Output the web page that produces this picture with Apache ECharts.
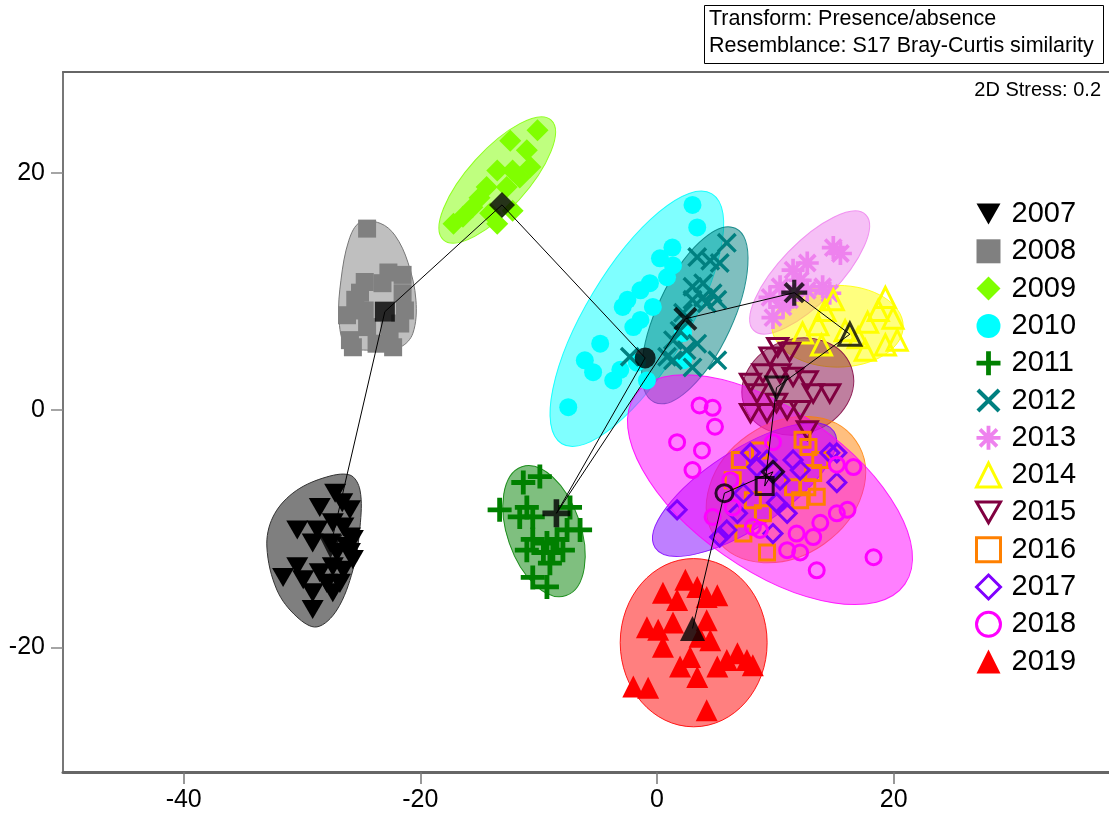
<!DOCTYPE html>
<html><head><meta charset="utf-8">
<script src="https://cdn.jsdelivr.net/npm/echarts@6/dist/echarts.min.js"></script>
<style>html,body{margin:0;padding:0;background:#fff}#c{width:1109px;height:814px}</style>
</head><body><div id="c"></div>
<script>
// ---------- DATA ----------
const years = ['2007','2008','2009','2010','2011','2012','2013','2014','2015','2016','2017','2018','2019'];
const xTicks = [-40, -20, 0, 20];
const yTicks = [-20, 0, 20];

const pts2007 = [[-27.2,-7.0],[-28.5,-8.2],[-26.6,-7.8],[-25.95,-8.4],[-30.4,-10.1],[-28.7,-10.1],[-27.4,-9.5],[-26.5,-9.85],[-25.95,-10.7],[-29.1,-11.2],[-27.6,-11.2],[-26.2,-11.5],[-25.95,-12.0],[-27.05,-12.0],[-30.4,-13.2],[-31.6,-14.1],[-29.9,-14.3],[-28.5,-13.7],[-27.4,-13.2],[-26.5,-13.5],[-27.9,-14.6],[-26.8,-14.6],[-29.1,-15.4],[-27.4,-15.4],[-29.1,-16.8],[-25.7,-10.9],[-25.7,-12.6]];
const pts2008 = [[-24.5,15.3],[-24.7,10.8],[-22.7,11.6],[-21.5,11.4],[-25.1,9.9],[-26.2,8.0],[-25.5,9.3],[-21.5,9.85],[-21.3,8.4],[-21.7,7.3],[-25.95,5.9],[-24.5,7.0],[-22.3,5.3],[-25.7,5.3],[-23.7,5.6],[-24.7,8.4],[-22.6,6.7],[-23.2,10.7]];
const pts2009 = [[-10.1,23.6],[-12.4,22.7],[-11.0,21.9],[-13.5,20.2],[-12.2,20.2],[-10.7,20.5],[-14.4,18.8],[-12.7,18.8],[-15.0,17.9],[-15.6,17.1],[-12.2,16.8],[-14.1,16.6],[-17.2,15.7],[-16.4,16.3],[-13.5,15.7],[-11.6,19.6]];
const pts2010 = [[3.0,17.3],[3.4,15.4],[1.3,13.7],[0.25,12.8],[1.35,12.2],[0.85,11.2],[-0.6,10.7],[-1.4,10.1],[-2.5,9.3],[-2.9,8.7],[-1.4,7.6],[-2.0,7.0],[-4.8,5.6],[-6.1,4.2],[-5.4,3.2],[-3.7,2.5],[-3.1,3.4],[-1.7,4.0],[-0.85,2.5],[-7.5,0.25],[2.2,6.5],[2.2,4.2],[-0.35,8.7]];
const pts2011 = [[-9.9,-5.6],[-11.3,-6.1],[-13.3,-8.4],[-11.0,-8.2],[-10.5,-9.0],[-7.35,-8.2],[-6.5,-10.1],[-7.6,-10.1],[-10.5,-10.9],[-9.3,-11.2],[-8.45,-10.9],[-11.0,-11.8],[-9.6,-12.0],[-8.8,-12.0],[-7.95,-11.8],[-10.5,-14.1],[-9.3,-14.9],[-9.05,-12.9],[-11.6,-9.0]];
const pts2012 = [[5.9,14.1],[3.4,12.9],[4.5,12.6],[5.3,12.4],[3.0,10.4],[3.9,10.7],[4.7,9.85],[3.9,9.5],[3.0,9.3],[2.2,8.2],[1.9,6.7],[1.35,5.9],[3.4,5.6],[2.5,5.05],[0.85,4.5],[5.1,4.2],[3.0,3.6],[-2.3,4.5],[1.35,4.2],[4.2,9.0],[5.1,9.3]];
const pts2013 = [[15.5,13.2],[14.9,13.7],[12.7,12.4],[11.5,11.8],[12.1,10.95],[10.4,10.4],[9.55,9.5],[10.65,8.7],[9.8,7.8],[14.0,10.4],[14.6,9.85],[12.7,10.1],[11.2,9.3]];
const pts2014 = [[14.9,9.3],[14.2,8.4],[13.6,7.2],[12.3,6.5],[15.9,6.7],[17.8,7.4],[18.7,8.4],[19.3,9.5],[19.95,7.75],[20.3,5.9],[19.3,5.5],[17.6,5.05],[13.9,5.5],[17.0,6.1]];
const pts2015 = [[7.9,2.3],[8.95,3.1],[10.4,3.1],[11.5,2.8],[12.7,2.5],[13.2,1.4],[14.6,1.4],[7.9,-0.25],[9.3,-0.25],[11.0,0.0],[12.1,0.0],[10.1,0.6],[12.7,-1.7],[8.45,1.4],[10.2,5.3],[9.55,4.5],[11.2,4.9]];
const pts2016 = [[12.8,-3.1],[12.3,-2.5],[8.7,-3.4],[7.0,-4.2],[6.4,-5.9],[8.1,-7.6],[12.7,-6.5],[13.5,-7.3],[13.2,-5.3],[8.95,-8.7],[7.3,-10.4],[9.3,-12.0],[12.1,-7.6],[11.5,-6.5],[13.8,-4.2]];
const pts2017 = [[1.7,-8.4],[7.9,-3.6],[9.3,-4.2],[11.5,-4.2],[12.1,-5.05],[14.6,-3.6],[15.2,-3.6],[15.2,-6.1],[10.4,-5.9],[7.3,-7.0],[11.0,-8.7],[9.8,-10.4],[5.9,-10.1],[5.3,-10.7],[6.8,-8.7],[10.1,-7.8],[8.45,-4.8]];
const pts2018 = [[3.6,0.4],[4.7,0.2],[4.9,-1.4],[1.7,-2.7],[3.8,-3.4],[3.0,-5.05],[9.8,-2.7],[15.2,-4.6],[16.6,-4.8],[6.2,-5.9],[6.4,-8.2],[4.7,-9.0],[8.1,-9.85],[8.7,-10.1],[11.8,-10.4],[11.0,-11.8],[12.1,-12.0],[13.2,-10.7],[13.8,-9.5],[15.2,-8.7],[16.1,-8.4],[13.5,-13.5],[18.3,-12.4]];
const pts2019 = [[2.4,-14.3],[3.4,-14.9],[0.5,-15.4],[1.7,-16.0],[4.2,-15.75],[5.1,-15.6],[-0.85,-18.3],[0.1,-18.5],[1.35,-17.9],[4.2,-17.7],[0.5,-19.95],[3.6,-19.1],[4.5,-19.4],[2.8,-20.8],[1.95,-21.6],[3.4,-22.5],[5.1,-21.6],[5.9,-21.05],[6.8,-20.5],[7.6,-21.05],[8.1,-21.5],[-2.0,-23.3],[-0.75,-23.4],[4.2,-25.3]];

// yearly centroids (trajectory order)
const centroids = [[-27.6,-11.5],[-23.0,8.3],[-13.1,17.3],[-1.0,4.4],[-8.5,-8.7],[2.4,7.7],[11.6,9.9],[16.3,6.4],[10.1,1.9],[9.1,-6.4],[9.8,-5.2],[5.7,-7.0],[3.0,-18.4]];

// hull outlines: polygons for 2007/2008, ellipses [cx, cy, semiA, semiB, angleDeg] for others
const hull2007 = [[-25.95,-5.47],[-25.1,-6.74],[-25.1,-9.85],[-25.7,-13.47],[-27.05,-16.84],[-28.74,-18.27],[-30.43,-17.43],[-32.12,-15.16],[-32.97,-11.54],[-32.46,-9.01],[-30.77,-6.99],[-28.23,-5.73]];
const hull2008 = [[-25.1,15.83],[-23.4,15.75],[-22.15,14.74],[-21.05,12.46],[-20.37,9.26],[-20.63,6.48],[-21.72,5.31],[-24.26,5.05],[-26.29,5.47],[-26.88,7.75],[-26.71,10.95],[-26.04,14.32]];
const ell2009 = [-13.5, 19.4, 6.8, 2.5, 48];
const ell2010 = [-1.7, 7.7, 12.3, 4.3, 59];
const ell2011 = [-9.55, -10.2, 5.75, 3.1, -71];
const ell2012 = [3.2, 8.0, 8.1, 3.2, 65];
const ell2013 = [12.9, 11.6, 6.8, 2.5, 46];
const ell2014 = [15.26, 7.07, 5.54, 3.45, 0];
const ell2015 = [11.9, 2.0, 4.8, 4.0, 20];
const ell2016 = [10.9, -6.7, 7.2, 5.6, 35];
const ell2017 = [7.4, -6.7, 9.0, 3.3, 33];
const ell2018 = [9.55, -6.7, 13.9, 6.75, -35];
const ell2019 = [3.1, -19.6, 6.2, 7.1, 0];

// ---------- STYLES ----------
const colors = ['#000000','#808080','#80FF00','#00FFFF','#008000','#008080','#EE82EE','#FFFF00','#800040','#FF8000','#8000FF','#FF00FF','#FF0000'];
const PLUS = 'path://M-1,-5H1V-1H5V1H1V5H-1V1H-5V-1H-1Z';
const CROSS = 'path://M-3.8,-5L0,-1.2L3.8,-5L5,-3.8L1.2,0L5,3.8L3.8,5L0,1.2L-3.8,5L-5,3.8L-1.2,0L-5,-3.8Z';
const STAR = 'path://M-5,-0.8H5V0.8H-5ZM-0.8,-5H0.8V5H-0.8ZM-2.97,-4.1L4.1,2.97L2.97,4.1L-4.1,-2.97ZM-4.1,2.97L2.97,-4.1L4.1,-2.97L-2.97,4.1Z';
const DOWN = 'path://M-5,-4.33L5,-4.33L0,4.33Z';
// symbol, size, open
const sym = [
  [DOWN,22,false],['rect',18,false],['diamond',22,false],['circle',18,false],
  [PLUS,24,false],[CROSS,20,false],[STAR,23,false],['triangle',20,true],
  [DOWN,20,true],['rect',15,true],['diamond',18,true],['circle',15,true],['triangle',22,false]
];
const csym = [
  [DOWN,24,false],['rect',20,false],['diamond',26,false],['circle',21,false],
  [PLUS,28,false],[CROSS,24,false],[STAR,26,false],['triangle',22,true],
  [DOWN,21,true],['rect',17,true],['diamond',21,true],['circle',17,true],['triangle',25,false]
];
const ptsAll = [pts2007,pts2008,pts2009,pts2010,pts2011,pts2012,pts2013,pts2014,pts2015,pts2016,pts2017,pts2018,pts2019];
const hullAll = [hull2007,hull2008,ell2009,ell2010,ell2011,ell2012,ell2013,ell2014,ell2015,ell2016,ell2017,ell2018,ell2019];

function rgba(hex,a){const n=parseInt(hex.slice(1),16);return `rgba(${(n>>16)&255},${(n>>8)&255},${n&255},${a})`;}

function ellipseSeries(i){
  const col = colors[i];
  return {type:'custom', name:'hull'+years[i], coordinateSystem:'cartesian2d', silent:true,
    dimensions:['x','y','a','b','ang'], encode:{x:0,y:1},
    data:[hullAll[i]],
    renderItem:function(params, api){
      const c = api.coord([api.value(0), api.value(1)]);
      const sa = api.size([api.value(2), api.value(2)]);
      const sb = api.size([api.value(3), api.value(3)]);
      return {type:'ellipse', x:c[0], y:c[1], rotation: api.value(4)*Math.PI/180,
        shape:{cx:0, cy:0, rx:(sa[0]+sa[1])/2, ry:(sb[0]+sb[1])/2},
        style:{fill: rgba(col,0.5), stroke: rgba(col,0.85), lineWidth:1}};
    }};
}
function polySeries(i){
  const col = colors[i];
  const verts = hullAll[i];
  return {type:'custom', name:'hull'+years[i], coordinateSystem:'cartesian2d', silent:true,
    encode:{x:0,y:1}, data: verts,
    renderItem:function(params, api){
      if (params.dataIndex !== 0) return null;
      const p = verts.map(v => api.coord(v));
      return {type:'polygon', shape:{points:p, smooth:0.35},
        style:{fill: rgba(col,0.5), stroke: i===0 ? '#333' : '#777', lineWidth:1}};
    }};
}

const series = [];
years.forEach((y,i) => {
  series.push(i < 2 ? polySeries(i) : ellipseSeries(i));
  const s = sym[i];
  series.push({type:'scatter', name:y, data: ptsAll[i], symbol:s[0], symbolSize:s[1], symbolKeepAspect:true,
    itemStyle: s[2] ? {color:'transparent', borderColor:colors[i], borderWidth:3, opacity:1} : {color:colors[i], opacity:1},
    emphasis:{disabled:true}, silent:true});
});
series.push({type:'line', name:'trajectory', data:centroids, symbol:'none', z:5, silent:true,
  lineStyle:{color:'#000', width:1}});
series.push({type:'scatter', name:'centroids', z:6, silent:true, emphasis:{disabled:true},
  data: centroids.map((c,i) => ({value:c, symbol:csym[i][0], symbolSize:csym[i][1],
    itemStyle: csym[i][2] ? {color:'transparent', borderColor:'#000', borderWidth:3} : {color:'#000'}}))});

const FONT = 'Liberation Sans, Arial';
const chart = echarts.init(document.getElementById('c'), null, {renderer:'canvas'});
chart.setOption({
  animation:false,
  backgroundColor:'#fff',
  grid:{left:63, right:0, top:72, bottom:42, containLabel:false},
  xAxis:[{type:'value', min:-50.2, max:38.2, position:'bottom',
      axisLine:{show:true, onZero:false, lineStyle:{color:'#666', width:3}},
      axisTick:{show:true, length:12, customValues:xTicks, lineStyle:{color:'#777', width:1.5}},
      axisLabel:{customValues:xTicks, fontSize:25, color:'#000', margin:16, fontFamily:FONT},
      splitLine:{show:false}},
    {type:'value', min:-50.2, max:38.2, position:'top',
      axisLine:{show:true, onZero:false, lineStyle:{color:'#666', width:2}},
      axisTick:{show:false}, axisLabel:{show:false}, splitLine:{show:false}}],
  yAxis:{type:'value', min:-30.5, max:28.5,
      axisLine:{show:true, onZero:false, lineStyle:{color:'#777', width:2}},
      axisTick:{show:true, length:12, customValues:yTicks, lineStyle:{color:'#888', width:1.5}},
      axisLabel:{customValues:yTicks, fontSize:25, color:'#000', margin:18, fontFamily:FONT},
      splitLine:{show:false}},
  legend:{orient:'vertical', left:970, top:194, itemWidth:24, itemHeight:24, itemGap:7.3,
    selectedMode:false,
    textStyle:{fontSize:29, lineHeight:30, color:'#000', fontFamily:FONT, padding:[0,0,0,6]},
    data: years.map((y,i) => sym[i][2] ? {name:y, itemStyle:{borderWidth:3}} : {name:y})},
  graphic:[
    {type:'rect', left:704, top:5, shape:{width:399, height:58}, style:{fill:'#fff', stroke:'#000', lineWidth:1}, z:10},
    {type:'text', left:709, top:8, style:{text:'Transform: Presence/absence', fontSize:21.5, fill:'#000', fontFamily:FONT}, z:11},
    {type:'text', left:709, top:35, style:{text:'Resemblance: S17 Bray-Curtis similarity', fontSize:21.5, fill:'#000', fontFamily:FONT}, z:11},
    {type:'text', right:8, top:80, style:{text:'2D Stress: 0.2', fontSize:20, fill:'#000', fontFamily:FONT}, z:11}
  ],
  series: series
});
</script></body></html>
